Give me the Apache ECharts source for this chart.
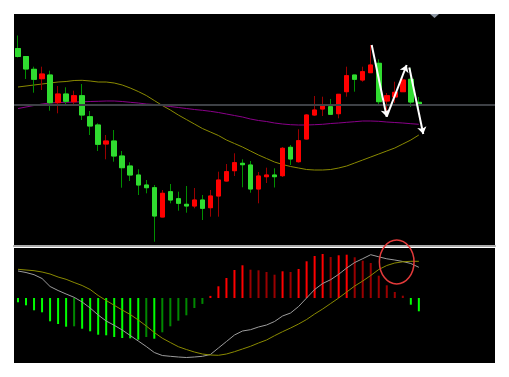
<!DOCTYPE html>
<html><head><meta charset="utf-8">
<script src="https://cdn.jsdelivr.net/npm/echarts@6/dist/echarts.min.js"></script>
<style>html,body{margin:0;padding:0;background:#fff}#c{width:509px;height:377px}</style>
</head><body><div id="c"></div>
<script>
// 60 bar slots on the time axis (51 used, rest is right margin)
const categories = ['1','2','3','4','5','6','7','8','9','10','11','12','13','14','15','16','17','18','19','20',
'21','22','23','24','25','26','27','28','29','30','31','32','33','34','35','36','37','38','39','40',
'41','42','43','44','45','46','47','48','49','50','51','52','53','54','55','56','57','58','59','60'];

// candles: [open, close, low, high]
const opens  = [197.5,189.5,176.7,167.3,171,143.3,152,144.3,150.3,129.3,121,102,105,90,80,71,61,58.3,29,54.3,
                47.3,41.7,40,46,38.3,50,65,75.3,82.7,81,57,69.3,71,70.3,98.7,84.3,107,131,137,139.3,
                132.3,154.3,171,166,173.3,182.7,145,149,154.3,166.7,143.7];
const closes = [189.5,177,166.7,172,143.3,152,144.7,150.3,131,120,101.7,105,90,78.3,71,61,58.3,30,52.7,46,
                42.7,40,46,37.7,50,66,74.3,83.3,81.3,57,70,71,69.3,97.7,87,105.3,131,136,140.3,131.7,
                151.7,170.3,166.7,174.3,181,144.3,150.3,153.7,166,144,141.3];
const lows   = [188.5,167,153.3,156,135.3,132.7,140,141.5,126,111,95,86.7,84.3,58.3,65,51,52.7,4.3,28.7,42.7,
                35.3,33.3,37.7,26,29.3,29.3,64.3,70,58.7,53.3,42.7,63,58.5,69,81,83.3,106.5,130,130,131.7,
                127.7,149.3,154.3,164.3,173,141,134,143,154,139,138];
const highs  = [210.5,189.5,179.3,179.3,175.3,160,158.7,155.3,162,135,122.7,111,116,95,83.7,76.7,66,61,56,62,
                54.3,60,58,51,56,74.3,82,92.7,86.7,85,74,78.3,77.7,99,101,116.7,132,150,149.3,147,
                151.7,179.3,171,179.3,201,186.7,153,164.3,167.7,177.7,149];

// moving averages on price panel
const maOlive  = [159,160,161,162,163,164,164.5,165.5,165.7,165,164,164,163,161,158,154.5,150.5,145.5,140.5,136,
                  131,126.5,122,117.5,114,110.5,106,102.5,99,95,91,87.5,84,81.5,79.5,78,76.5,76,76,76.5,
                  78,80,83,86,89,92,95,98,102,106,111];
const maPurple = [137.5,139,140.5,142,143,143.5,143.7,144,144.2,144.5,144.7,145,145,144.5,143.7,143,142,141.5,140.5,139.5,
                  138.5,137.5,136.5,135.7,134.7,133.5,132,130.5,129,127,125.5,124.5,123,122,121.3,121,121,121.3,121.7,122.5,
                  123,123.7,124.3,125,125,124.7,124,123.5,123,122.3,121.7];
const levelLine = 141;

// oscillator panel
const histogram = [-4.3,-7.3,-12.3,-14.3,-23.3,-26,-28.7,-28.3,-30.7,-33.3,-36.7,-37.3,-39,-40,-40.3,-41.7,-39,-40.7,-34.3,-28.3,
                   -22.7,-17.3,-10,-5.9,2.1,11.7,20,28,32.7,28.3,27.7,26,23.3,26.7,26,29,36.7,42,44,41,
                   42.7,43.3,40.7,37.3,35,22.3,12.7,6,2.3,-6.7,-13.3];
const macdLine = [27,25.5,23.3,19.5,11.5,7.5,4,0.7,-4,-10,-17,-23,-27.3,-32,-37.5,-43,-48.5,-54.5,-57.5,-58.3,
                  -59,-59.5,-59,-58.3,-56.5,-50,-43.5,-37,-33,-31.7,-29,-27,-23.5,-18,-15,-8.5,0,8.5,14.5,18.3,
                  23.7,30,35.5,39.3,43.3,41.2,39.2,38,36.5,34.5,30.7];
const signalLine = [28.7,28,27.3,26,24,21,18.7,15.5,12.5,8.5,2.5,-2.5,-7.3,-12,-16.5,-22,-28,-34.5,-40.2,-44.5,
                    -48.7,-51.5,-54,-56,-57,-57.3,-56,-53.7,-51,-48.3,-45,-42,-37.7,-33.7,-30,-26,-21.5,-16,-11,-5.5,
                    0,6,12,17,22.5,28.5,32.5,35,36.2,36.7,36.7];

// annotations: zig-zag arrows (bar position, price) and highlight ellipse (bar position, value, radiusX, radiusY)
const arrows = [
  [[44.62,201],[46.49,129.3]],
  [[46.49,129.3],[48.98,181]],
  [[49.31,178.5],[51.05,112]]
];
const highlight = [47.74, 36, 2.16, 22];

const candleFull = opens.map((o,i)=>[o, closes[i], lows[i], highs[i]]);
const candleBody = opens.map((o,i)=>[o, closes[i], Math.min(o,closes[i]), Math.max(o,closes[i])]);

const chart = echarts.init(document.getElementById('c'), null, {renderer:'canvas'});
const hidden = {show:false};
chart.setOption({
  animation:false,
  backgroundColor:'#ffffff',
  grid:[
    {left:14, top:14, width:481, height:233, show:true, backgroundColor:'#000', borderWidth:0},
    {left:14, top:248, width:481, height:115, show:true, backgroundColor:'#000', borderWidth:0}
  ],
  xAxis:[
    {type:'category', gridIndex:0, data:categories, boundaryGap:true,
     axisLine:{show:true, lineStyle:{color:'#a9a9a9', width:2}}, axisTick:hidden, axisLabel:hidden, splitLine:hidden},
    {type:'category', gridIndex:1, data:categories, boundaryGap:true,
     axisLine:hidden, axisTick:hidden, axisLabel:hidden, splitLine:hidden},
    {type:'value', gridIndex:0, min:0, max:60, show:false},
    {type:'value', gridIndex:1, min:0, max:60, show:false}
  ],
  yAxis:[
    {type:'value', gridIndex:0, min:-1, max:232, show:false, splitLine:hidden},
    {type:'value', gridIndex:1, min:-65, max:50, show:false, splitLine:hidden}
  ],
  graphic:[
    {type:'polygon', shape:{points:[[430,14],[439,14],[434.5,18]]}, style:{fill:'#8d97a3'}, z:100}
  ],
  series:[
    {type:'line', xAxisIndex:0, yAxisIndex:0, data:maOlive, symbol:'none', z:1,
     lineStyle:{color:'#8a8a00', width:1}},
    {type:'line', xAxisIndex:0, yAxisIndex:0, data:maPurple, symbol:'none', z:1,
     lineStyle:{color:'#8a008a', width:1},
     markLine:{silent:true, symbol:'none', label:{show:false},
       lineStyle:{color:'#3e4146', width:2, type:'solid'}, data:[{yAxis:levelLine}]}},
    {type:'candlestick', xAxisIndex:0, yAxisIndex:0, data:candleFull, barWidth:5, z:3,
     itemStyle:{color:'#9a0000', color0:'#008f00', borderColor:'#9a0000', borderColor0:'#008f00', borderWidth:1}},
    {type:'candlestick', xAxisIndex:0, yAxisIndex:0, data:candleBody, barWidth:5, z:4,
     itemStyle:{color:'#ff0000', color0:'#30dc30', borderColor:'#ff0000', borderColor0:'#30dc30', borderWidth:1}},
    {type:'bar', xAxisIndex:1, yAxisIndex:1, data:histogram, barWidth:2, z:2,
     itemStyle:{color:function(p){
       const v = p.value, prev = p.dataIndex>0 ? histogram[p.dataIndex-1] : 0;
       if (v >= 0) return v > prev ? '#ff0000' : '#9a0000';
       return v < prev ? '#00ff00' : '#008800';
     }}},
    {type:'line', xAxisIndex:1, yAxisIndex:1, data:macdLine, symbol:'none', z:3,
     lineStyle:{color:'#9c9c9c', width:1}},
    {type:'line', xAxisIndex:1, yAxisIndex:1, data:signalLine, symbol:'none', z:3,
     lineStyle:{color:'#8a8a00', width:1}},
    {type:'lines', coordinateSystem:'cartesian2d', xAxisIndex:2, yAxisIndex:0, z:10,
     symbol:['none','arrow'], symbolSize:7,
     lineStyle:{color:'#ffffff', width:2, opacity:1},
     data:arrows.map(c=>({coords:c}))},
    {type:'custom', xAxisIndex:3, yAxisIndex:1, z:10, clip:false,
     data:[highlight],
     renderItem:function(params, api){
       const c = api.coord([api.value(0), api.value(1)]);
       const s = api.size([api.value(2), api.value(3)]);
       return {type:'ellipse', shape:{cx:c[0], cy:c[1], rx:s[0], ry:s[1]},
               style:{fill:'none', stroke:'#e23a3a', lineWidth:1.5}};
     }}
  ]
});
</script></body></html>
